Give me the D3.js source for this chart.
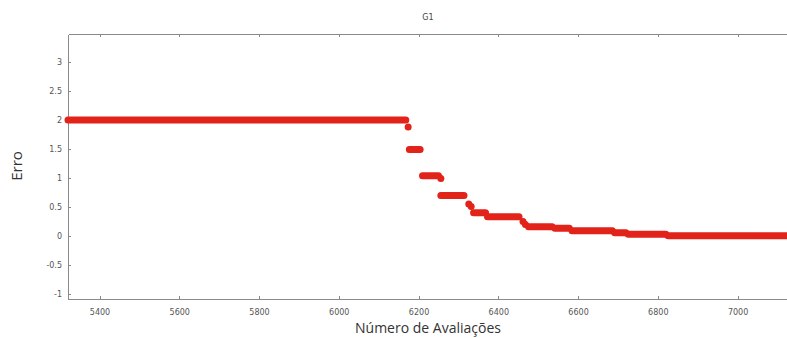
<!DOCTYPE html>
<html>
<head>
<meta charset="utf-8">
<script src="https://cdn.jsdelivr.net/npm/d3@7"></script>
<style>
  html, body { margin: 0; padding: 0; background: #fff; }
  svg { display: block; }
  .axis path, .axis line { stroke: #8a8a8a; shape-rendering: crispEdges; }
  .axis text { fill: #555; font-family: "DejaVu Sans", sans-serif; font-size: 8px; }
</style>
</head>
<body>
<svg id="chart" width="787" height="338"></svg>
<script>
// Error plateaus over the run: each holds a constant error from runStart to runEnd evaluations
const runStart = [5321, 6174, 6177, 6210, 6256, 6256, 6326, 6332, 6338, 6373, 6462, 6468, 6476, 6542, 6585, 6692, 6726, 6826];
const runEnd   = [6168, 6174, 6204, 6250, 6256, 6314, 6326, 6332, 6368, 6452, 6462, 6468, 6535, 6578, 6686, 6720, 6820, 7130];
const runError = [2.0, 1.88, 1.49, 1.04, 0.99, 0.70, 0.55, 0.51, 0.40, 0.33, 0.25, 0.20, 0.16, 0.135, 0.09, 0.057, 0.03, 0.005];

const xTicks = [5400, 5600, 5800, 6000, 6200, 6400, 6600, 6800, 7000];
const yTicks = [-1, -0.5, 0, 0.5, 1, 1.5, 2, 2.5, 3];

const title = "G1";
const xLabel = "Número de Avaliações";
const yLabel = "Erro";

const runs = runStart.map((s, i) => ({ start: s, end: runEnd[i], err: runError[i] }));

const svg = d3.select("#chart");
const plotLeft = 68, plotRight = 787, plotTop = 34, plotBottom = 299;

const x = d3.scaleLinear().domain([5321, 7124]).range([plotLeft, plotRight]);
const y = d3.scaleLinear().domain([-1.086, 3.483]).range([plotBottom, plotTop]);

// frame: left, top and bottom edges
svg.append("g").attr("class", "axis")
  .attr("transform", `translate(0,${plotBottom})`)
  .call(d3.axisBottom(x).tickValues(xTicks).tickSizeInner(-3).tickSizeOuter(0).tickFormat(d => String(d)))
  .call(g => g.selectAll("text").attr("y", 10).attr("dy", "0.71em"));

svg.append("g").attr("class", "axis")
  .attr("transform", `translate(0,${plotTop})`)
  .call(d3.axisTop(x).tickValues(xTicks).tickSizeInner(-3).tickSizeOuter(0).tickFormat(""));

svg.append("g").attr("class", "axis")
  .attr("transform", `translate(${plotLeft},0)`)
  .call(d3.axisLeft(y).tickValues(yTicks).tickSizeInner(-3).tickSizeOuter(0).tickFormat(d => String(d)))
  .call(g => g.selectAll("text").attr("x", -6));

// error markers: each plateau drawn as a run of overlapping round dots
svg.append("g")
  .selectAll("line")
  .data(runs)
  .join("line")
  .attr("x1", d => x(d.start))
  .attr("x2", d => x(d.end))
  .attr("y1", d => y(d.err))
  .attr("y2", d => y(d.err))
  .attr("stroke", "#e2231a")
  .attr("stroke-width", 7)
  .attr("stroke-linecap", "round");

// titles
svg.append("text")
  .attr("x", 428).attr("y", 20)
  .attr("text-anchor", "middle")
  .attr("font-family", "DejaVu Sans, sans-serif")
  .attr("font-size", 8).attr("fill", "#444")
  .text(title);

svg.append("text")
  .attr("x", 428).attr("y", 333)
  .attr("text-anchor", "middle")
  .attr("font-family", "Open Sans, sans-serif")
  .attr("font-size", 14).attr("fill", "#333")
  .text(xLabel);

svg.append("text")
  .attr("transform", "translate(22,166) rotate(-90)")
  .attr("text-anchor", "middle")
  .attr("font-family", "Open Sans, sans-serif")
  .attr("font-size", 15).attr("fill", "#333")
  .text(yLabel);
</script>
</body>
</html>
